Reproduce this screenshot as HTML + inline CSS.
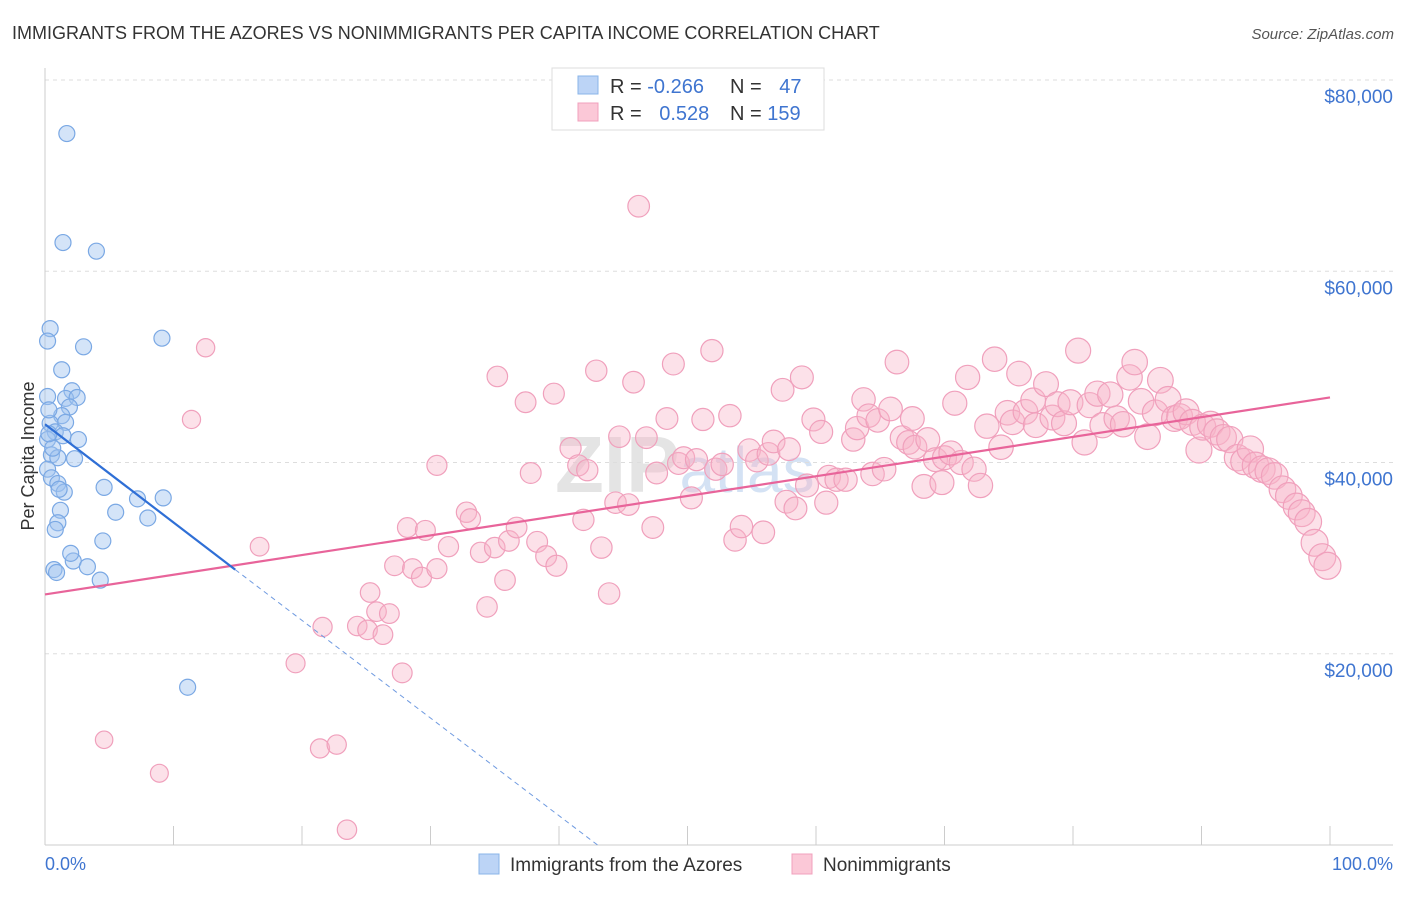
<!DOCTYPE html>
<html><head><meta charset="utf-8">
<style>
body{margin:0;background:#fff;font-family:"Liberation Sans",sans-serif;}
svg text{font-family:"Liberation Sans",sans-serif;}
</style></head>
<body>
<svg id="chart" width="1406" height="892" xmlns="http://www.w3.org/2000/svg">
<text x="12" y="39" font-size="18" fill="#333">IMMIGRANTS FROM THE AZORES VS NONIMMIGRANTS PER CAPITA INCOME CORRELATION CHART</text>
<text x="1394" y="39" font-size="15" fill="#555" font-style="italic" text-anchor="end">Source: ZipAtlas.com</text>
<text transform="translate(34,456) rotate(-90)" font-size="18" fill="#333" text-anchor="middle">Per Capita Income</text>
<text x="555" y="492" font-size="80" fill="#e4e4e4" font-family="Liberation Serif" font-weight="bold">ZIP<tspan fill="#d4e2f4" font-family="Liberation Sans" font-weight="normal" font-size="64">atlas</tspan></text>
<g id="grid"></g><g id="marks"></g><g id="lines"></g>
<g>
<rect x="552" y="68" width="272" height="62" fill="#fff" stroke="#ddd"/>
<rect x="578" y="76" width="20" height="18" fill="#bcd4f6" stroke="#8ab4e8"/>
<rect x="578" y="103" width="20" height="18" fill="#fbc8d7" stroke="#f0a0bc"/>
<text x="610" y="93" font-size="20" fill="#333">R = <tspan fill="#3f75d0">-0.266</tspan></text>
<text x="730" y="93" font-size="20" fill="#333">N = <tspan fill="#3f75d0" dx="12">47</tspan></text>
<text x="610" y="120" font-size="20" fill="#333">R = <tspan fill="#3f75d0" dx="12">0.528</tspan></text>
<text x="730" y="120" font-size="20" fill="#333">N = <tspan fill="#3f75d0">159</tspan></text>
</g>
<g>
<rect x="479" y="854" width="20" height="20" fill="#bcd4f6" stroke="#8ab4e8"/>
<text x="510" y="871" font-size="19" fill="#333">Immigrants from the Azores</text>
<rect x="792" y="854" width="20" height="20" fill="#fbc8d7" stroke="#f0a0bc"/>
<text x="823" y="871" font-size="19" fill="#333">Nonimmigrants</text>
</g>
<text x="45" y="870" font-size="18" fill="#3f75d0">0.0%</text>
<text x="1393" y="870" font-size="18" fill="#3f75d0" text-anchor="end">100.0%</text>
</svg>
<script>
const yTicks=[20,40,60,80];
const yTickLabels=["$20,000","$40,000","$60,000","$80,000"];
const xTicks=[0,10,20,30,40,50,60,70,80,90,100];
const blueX=[1.7,1.4,4.0,0.4,0.2,3.0,9.1,1.3,2.1,0.2,1.6,2.5,1.9,1.3,1.6,0.4,0.8,1.4,2.6,0.2,0.5,1.0,2.3,0.2,0.5,1.0,1.5,4.6,7.2,9.2,5.5,8.0,1.2,1.0,0.8,4.5,2.2,3.3,0.7,0.9,4.3,11.1,0.3,0.6,1.1,0.3,2.0];
const blueY=[74.4,63.0,62.1,54.0,52.7,52.1,53.0,49.7,47.5,46.9,46.7,46.8,45.8,44.9,44.2,44.1,43.2,42.8,42.4,42.4,40.8,40.5,40.4,39.3,38.4,37.8,36.9,37.4,36.2,36.3,34.8,34.2,35.0,33.7,33.0,31.8,29.7,29.1,28.8,28.5,27.7,16.5,45.5,41.5,37.2,43.0,30.5];
const pinkX=[12.5,11.4,16.7,4.6,8.9,19.5,21.6,21.4,22.7,23.5,24.3,25.3,25.1,25.8,26.3,26.8,27.2,27.8,28.2,28.6,29.3,29.6,30.5,30.5,31.4,32.8,33.1,33.9,34.4,35.0,35.2,35.8,36.1,36.7,37.4,37.8,38.3,39.0,39.6,39.8,40.9,41.5,41.9,42.2,42.9,43.3,43.9,44.4,45.4,44.7,45.8,46.2,46.8,47.3,47.6,48.4,48.9,49.3,49.7,50.3,50.7,51.2,51.9,52.2,52.7,53.3,53.7,54.2,54.8,55.4,55.9,56.3,56.7,57.4,57.7,57.9,58.4,58.9,59.3,59.8,60.4,60.8,61.0,61.6,62.3,62.9,63.2,63.7,64.1,64.4,64.8,65.3,65.8,66.3,66.7,67.2,67.5,67.7,68.4,68.7,69.3,69.8,70.0,70.5,70.8,71.3,71.8,72.3,72.8,73.3,73.9,74.4,74.9,75.3,75.8,76.3,76.9,77.1,77.9,78.4,78.8,79.3,79.8,80.4,80.9,81.3,81.9,82.3,82.9,83.4,83.9,84.4,84.8,85.3,85.8,86.4,86.8,87.4,87.9,88.3,88.8,89.3,89.8,90.1,90.7,91.2,91.7,92.2,92.8,93.3,93.8,94.2,94.7,95.2,95.7,96.3,96.8,97.4,97.8,98.3,98.8,99.4,99.8];
const pinkY=[52.0,44.5,31.2,11.0,7.5,19.0,22.8,10.1,10.5,1.6,22.9,26.4,22.5,24.4,22.0,24.2,29.2,18.0,33.2,28.9,28.0,32.9,28.9,39.7,31.2,34.8,34.1,30.6,24.9,31.1,49.0,27.7,31.8,33.2,46.3,38.9,31.7,30.2,47.2,29.2,41.5,39.7,34.0,39.2,49.6,31.1,26.3,35.8,35.6,42.7,48.4,66.8,42.6,33.2,38.9,44.6,50.3,39.9,40.5,36.3,40.3,44.5,51.7,39.3,39.8,44.9,31.9,33.3,41.3,40.2,32.7,40.9,42.2,47.6,35.9,41.4,35.2,48.9,37.6,44.5,43.2,35.8,38.5,38.2,38.2,42.4,43.6,46.6,44.9,38.8,44.4,39.3,45.6,50.5,42.6,42.1,44.6,41.6,37.5,42.4,40.3,37.9,40.5,41.0,46.2,40.0,48.9,39.3,37.6,43.8,50.8,41.6,45.2,44.2,49.3,45.3,46.5,43.9,48.2,44.7,46.1,44.1,46.3,51.7,42.1,46.0,47.2,43.9,47.1,44.6,44.0,48.9,50.5,46.4,42.7,45.2,48.6,46.6,44.6,44.8,45.3,44.2,41.3,43.7,44.0,43.2,42.6,42.4,40.5,40.1,41.4,39.7,39.3,39.1,38.6,37.2,36.5,35.4,34.7,33.8,31.6,30.1,29.2];
const blueTrend=[[0,44.0],[14.8,28.8]];
const blueTrendExt=[[14.8,28.8],[43,0]];
const pinkTrend=[[0,26.2],[100,46.8]];

const NS="http://www.w3.org/2000/svg";
function sx(v){return 45+v*12.85;}
function sy(v){return 845-v*9.5625;}
function mk(tag,attrs,parent){const e=document.createElementNS(NS,tag);for(const k in attrs)e.setAttribute(k,attrs[k]);parent.appendChild(e);return e;}
const grid=document.getElementById('grid'),marks=document.getElementById('marks'),lines=document.getElementById('lines');
yTicks.forEach((t,i)=>{
  const l=mk('line',{x1:45,x2:1393,y1:sy(t),y2:sy(t),stroke:'#ddd','stroke-dasharray':'4,4'},grid);
  
  
  const tx=mk('text',{x:1393,y:sy(t)+23,'font-size':19,fill:'#3f75d0','text-anchor':'end'},grid);
  tx.textContent=yTickLabels[i];
  
  
});
const ax=mk('line',{x1:45,x2:45,y1:68,y2:845,stroke:'#ccc'},grid);


const xa=mk('line',{x1:45,x2:1393,y1:845,y2:845,stroke:'#ccc'},grid);


xTicks.forEach(t=>{
  const l=mk('line',{x1:sx(t),x2:sx(t),y1:826,y2:845,stroke:'#ccc'},grid);
  
  
});
blueX.forEach((x,i)=>{
  const c=mk('circle',{cx:sx(x),cy:sy(blueY[i]),r:8,fill:'rgba(160,196,240,0.45)',stroke:'#7aa8e4','stroke-width':1.2},marks);
  
  
});
pinkX.forEach((x,i)=>{
  const c=mk('circle',{cx:sx(x),cy:sy(pinkY[i]),r:8.5+x/100*5,fill:'rgba(248,180,200,0.4)',stroke:'#f0a0bc','stroke-width':1.2},marks);
  
  
});
function ln(p,attrs,name){const l=mk('line',Object.assign({x1:sx(p[0][0]),y1:sy(p[0][1]),x2:sx(p[1][0]),y2:sy(p[1][1])},attrs),lines);}
ln(pinkTrend,{stroke:'#e8649a','stroke-width':2.2},'pink-trend-line');
ln(blueTrend,{stroke:'#2f6fd6','stroke-width':2.2},'blue-trend-line');
ln(blueTrendExt,{stroke:'#6f9ae0','stroke-width':1,'stroke-dasharray':'5,4'},'blue-trend-extension');
</script>
</body></html>
